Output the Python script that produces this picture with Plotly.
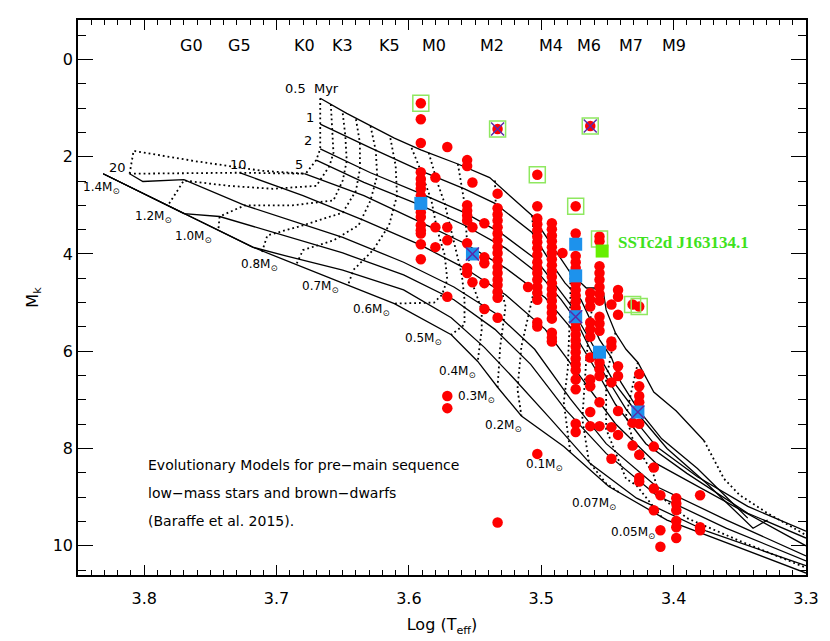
"""
HR-style diagram: M_K vs log Teff with Baraffe et al. (2015) pre-main-sequence
isochrones (solid) and mass tracks (dotted), plus the observed sample.
"""

import plotly.graph_objects as go

# ─── Isochrones (log Teff, M_K), solid lines ────────────────────────────────

ISO_0_5MYR = [(3.667, 0.80), (3.647, 1.11), (3.611, 1.62), (3.591, 1.86), (3.563, 2.15),
              (3.539, 2.43), (3.507, 3.21), (3.478, 4.39), (3.466, 4.70), (3.459, 4.70),
              (3.453, 4.80), (3.451, 5.15), (3.444, 5.62), (3.436, 5.96), (3.427, 6.23),
              (3.415, 6.84), (3.398, 7.23), (3.377, 7.84)]
ISO_1MYR = [(3.667, 1.33), (3.629, 1.82), (3.591, 2.29), (3.558, 2.66), (3.535, 2.96),
            (3.507, 3.56), (3.493, 4.17), (3.482, 4.60), (3.470, 4.94), (3.463, 5.35),
            (3.456, 5.76), (3.447, 6.13), (3.440, 6.63), (3.427, 7.19), (3.409, 7.80),
            (3.382, 8.41), (3.344, 9.43)]
ISO_2MYR = [(3.667, 1.84), (3.629, 2.33), (3.591, 2.76), (3.558, 3.15), (3.531, 3.56),
            (3.505, 4.09), (3.488, 4.68), (3.478, 5.04), (3.470, 5.45), (3.459, 5.96),
            (3.444, 6.68), (3.427, 7.29), (3.405, 8.00), (3.375, 8.72), (3.340, 9.64),
            (3.329, 9.47)]
ISO_3MYR = [(3.670, 2.07), (3.634, 2.53), (3.591, 3.00), (3.558, 3.41), (3.527, 3.88),
            (3.501, 4.43), (3.485, 4.94), (3.474, 5.35), (3.463, 5.96), (3.451, 6.53),
            (3.436, 7.19), (3.413, 7.96), (3.382, 8.58), (3.344, 9.19), (3.300, 9.70)]
ISO_5MYR = [(3.679, 2.35), (3.634, 2.80), (3.591, 3.35), (3.558, 3.78), (3.527, 4.29),
            (3.497, 4.90), (3.478, 5.51), (3.459, 6.37), (3.444, 7.09), (3.421, 7.90),
            (3.390, 8.51), (3.344, 9.33), (3.300, 9.84)]
ISO_10MYR = [(3.728, 2.33), (3.680, 2.80), (3.634, 3.31), (3.591, 3.82), (3.558, 4.29),
             (3.527, 4.84), (3.497, 5.55), (3.466, 6.68), (3.444, 7.49), (3.413, 8.31),
             (3.375, 8.88), (3.300, 10.00)]
ISO_20MYR = [(3.811, 2.35), (3.801, 2.51), (3.770, 2.47), (3.724, 3.00), (3.650, 3.66),
             (3.604, 4.17), (3.566, 4.68), (3.533, 5.25), (3.505, 5.96), (3.478, 6.98),
             (3.451, 7.90), (3.413, 8.78), (3.360, 9.47), (3.300, 10.21)]
ISO_OLD_A = [(3.831, 2.35), (3.770, 3.17), (3.743, 3.23), (3.695, 3.62), (3.650, 3.98),
             (3.604, 4.43), (3.566, 4.94), (3.535, 5.55), (3.508, 6.27), (3.482, 7.19),
             (3.451, 8.10), (3.413, 8.96), (3.360, 9.64), (3.300, 10.31)]
ISO_OLD_B = [(3.831, 2.35), (3.770, 3.17), (3.718, 3.86), (3.693, 4.04), (3.650, 4.33),
             (3.604, 4.74), (3.568, 5.31), (3.543, 5.92), (3.520, 6.58), (3.493, 7.39),
             (3.463, 8.31), (3.428, 9.02), (3.375, 9.70), (3.300, 10.41)]
ISO_OLD_C = [(3.831, 2.35), (3.770, 3.17), (3.718, 3.86), (3.650, 4.60), (3.611, 5.02),
             (3.568, 5.66), (3.548, 6.21), (3.533, 6.74), (3.515, 7.33), (3.483, 7.96),
             (3.449, 8.78), (3.405, 9.47), (3.360, 9.94), (3.300, 10.56)]

ISOCHRONES = [ISO_0_5MYR, ISO_1MYR, ISO_2MYR, ISO_3MYR, ISO_5MYR, ISO_10MYR,
              ISO_20MYR, ISO_OLD_A, ISO_OLD_B, ISO_OLD_C]

# ─── Mass tracks (log Teff, M_K), dotted lines ──────────────────────────────

TRK_1_4 = [(3.667, 0.80), (3.667, 1.33), (3.667, 1.84), (3.670, 2.07), (3.678, 2.35),
           (3.728, 2.33), (3.811, 2.35)]
TRK_1_4_LOOP = [(3.811, 2.35), (3.808, 1.88), (3.762, 2.09), (3.711, 2.29), (3.678, 2.35)]
TRK_1_2 = [(3.659, 0.92), (3.658, 1.43), (3.657, 1.92), (3.660, 2.19), (3.670, 2.60),
           (3.703, 2.66), (3.736, 2.60), (3.770, 2.49), (3.782, 3.00)]
TRK_1_0 = [(3.650, 1.11), (3.648, 1.58), (3.647, 2.09), (3.650, 2.49), (3.657, 2.90),
           (3.688, 3.00), (3.724, 3.00), (3.743, 3.23), (3.744, 3.51)]
TRK_0_9 = [(3.640, 1.23), (3.637, 1.72), (3.637, 2.25), (3.640, 2.70), (3.650, 3.15),
           (3.680, 3.41), (3.707, 3.62), (3.711, 3.96)]
TRK_0_8 = [(3.629, 1.37), (3.625, 1.88), (3.624, 2.39), (3.629, 2.90), (3.638, 3.41),
           (3.657, 3.72), (3.680, 3.92), (3.685, 4.21)]
TRK_0_7 = [(3.614, 1.62), (3.610, 2.19), (3.609, 2.80), (3.615, 3.41), (3.627, 3.92),
           (3.642, 4.33), (3.646, 4.64)]
TRK_0_6 = [(3.598, 1.82), (3.591, 2.29), (3.583, 2.90), (3.579, 3.46), (3.573, 4.02),
           (3.571, 4.53), (3.575, 4.84), (3.581, 5.00), (3.611, 5.02)]
TRK_0_5 = [(3.585, 1.92), (3.579, 2.49), (3.573, 2.96), (3.566, 3.78), (3.560, 4.43),
           (3.558, 4.94), (3.558, 5.45), (3.568, 5.66)]
TRK_0_4 = [(3.563, 2.15), (3.560, 2.60), (3.558, 2.96), (3.556, 3.78), (3.553, 4.53),
           (3.545, 5.15), (3.545, 5.55), (3.548, 6.21)]
TRK_0_3 = [(3.535, 2.49), (3.534, 3.31), (3.533, 4.13), (3.530, 4.74), (3.527, 5.08),
           (3.531, 5.90), (3.533, 6.74)]
TRK_0_2 = [(3.507, 3.21), (3.505, 3.82), (3.503, 4.39), (3.507, 4.94), (3.510, 5.29),
           (3.515, 5.90), (3.518, 6.78), (3.515, 7.33)]
TRK_0_1 = [(3.478, 4.39), (3.478, 4.94), (3.479, 5.70), (3.480, 6.37), (3.483, 7.05),
           (3.478, 8.09)]
TRK_0_07 = [(3.459, 4.70), (3.463, 5.35), (3.466, 6.17), (3.469, 7.39), (3.464, 8.27),
            (3.451, 8.72), (3.440, 8.92)]
TRK_0_05 = [(3.444, 5.62), (3.451, 6.58), (3.451, 7.60), (3.436, 8.62), (3.428, 8.76),
            (3.409, 9.41)]
TRK_0_04 = [(3.427, 6.23), (3.436, 7.33), (3.431, 7.80), (3.415, 8.55), (3.411, 8.96),
            (3.390, 9.43), (3.350, 9.90), (3.300, 10.45)]
TRK_0_02 = [(3.377, 7.84), (3.362, 8.62), (3.350, 8.96), (3.329, 9.33), (3.300, 9.78)]

TRACKS = [TRK_1_4, TRK_1_4_LOOP, TRK_1_2, TRK_1_0, TRK_0_9, TRK_0_8, TRK_0_7, TRK_0_6,
          TRK_0_5, TRK_0_4, TRK_0_3, TRK_0_2, TRK_0_1, TRK_0_07, TRK_0_05, TRK_0_04,
          TRK_0_02]

# ─── Observed sample: M_K values grouped by log Teff column ─────────────────

STARS_3591 = [0.90, 1.23, 1.72, 2.32, 2.46, 2.56, 2.66, 2.80, 3.14, 3.24, 3.41, 3.51,
              3.58, 3.80, 4.11]
STARS_3580 = [2.43, 3.45, 3.86]
STARS_3571 = [1.80, 3.45, 3.72, 4.88, 6.92, 7.17]
STARS_3556 = [2.07, 2.19, 3.00, 3.11, 3.21, 3.31, 3.78, 4.29, 4.39]
STARS_3552 = [2.53, 3.45, 4.58]
STARS_3543 = [3.37, 4.07, 4.19, 4.60, 5.13]
STARS_3533 = [1.43, 2.76, 3.06, 3.19, 3.31, 3.45, 3.58, 3.72, 3.86, 3.98, 4.13, 4.27,
              4.39, 4.53, 4.64, 4.78, 4.90, 5.31, 9.52]
STARS_3510 = [4.68]
STARS_3503 = [2.37, 3.02, 3.27, 3.39, 3.51, 3.64, 3.76, 3.88, 4.02, 4.17, 4.29, 4.39,
              4.53, 4.68, 4.80, 4.94, 5.41, 5.49, 8.11]
STARS_3492 = [3.37, 3.49, 3.62, 3.74, 3.86, 3.98, 4.11, 4.23, 4.35, 4.47, 4.60, 4.72,
              4.84, 4.96, 5.09, 5.21, 5.33, 5.62, 5.72, 5.80]
STARS_3484 = [3.98]
STARS_3474 = [3.02, 3.58, 4.04, 4.17, 4.29, 4.62, 4.74, 4.86, 4.98, 5.11, 5.21, 5.41,
              5.53, 5.66, 5.78, 5.90, 6.02, 6.15, 6.27, 6.39, 6.58, 6.78, 7.49, 7.66]
STARS_3463 = [1.37, 4.80, 4.94, 5.08, 5.41, 5.55, 5.70, 6.13, 6.58, 6.72, 7.25, 7.54]
STARS_3456 = [3.64, 3.74, 4.25, 4.39, 4.53, 4.68, 4.82, 4.96, 5.29, 5.43, 5.58, 6.23,
              6.37, 6.51, 7.05, 7.54]
STARS_3447 = [5.04, 5.80, 5.90, 6.64, 7.56, 8.21]
STARS_3442 = [4.74, 4.88, 5.25, 6.31, 6.51, 7.23, 7.72]
STARS_3431 = [5.04, 7.47, 7.94]
STARS_3426 = [5.08, 6.47, 6.72, 6.92, 7.05, 7.49, 8.13, 8.60, 8.68]
STARS_3415 = [7.96, 8.39, 8.82, 9.27]
STARS_3410 = [8.96, 9.68, 10.02]
STARS_3398 = [9.02, 9.13, 9.27, 9.49, 9.62, 9.84]
STARS_3380 = [8.96, 9.62, 9.68]

STAR_COLUMNS = [(3.591, STARS_3591), (3.580, STARS_3580), (3.571, STARS_3571),
                (3.556, STARS_3556), (3.552, STARS_3552), (3.543, STARS_3543),
                (3.533, STARS_3533), (3.510, STARS_3510), (3.503, STARS_3503),
                (3.492, STARS_3492), (3.484, STARS_3484), (3.474, STARS_3474),
                (3.463, STARS_3463), (3.456, STARS_3456), (3.447, STARS_3447),
                (3.442, STARS_3442), (3.431, STARS_3431), (3.426, STARS_3426),
                (3.415, STARS_3415), (3.410, STARS_3410), (3.398, STARS_3398),
                (3.380, STARS_3380)]

# Highlighted objects
BLUE_T = [3.591, 3.552, 3.474, 3.474, 3.474, 3.456, 3.427]
BLUE_K = [2.96, 4.00, 3.80, 4.45, 5.29, 6.02, 7.25]
CROSS_T = [3.552, 3.474, 3.427, 3.533, 3.463]
CROSS_K = [4.00, 5.29, 7.25, 1.43, 1.37]
BOX_T = [3.591, 3.533, 3.463, 3.503, 3.474, 3.456, 3.431, 3.426]
BOX_K = [0.90, 1.43, 1.37, 2.37, 3.02, 3.69, 5.04, 5.08]
TARGET_T = [3.454]
TARGET_K = [3.94]

# Spectral types along the top
SPT_LABELS = ['G0', 'G5', 'K0', 'K3', 'K5', 'M0', 'M2', 'M4', 'M6', 'M7', 'M9']
SPT_LOGT = [3.764, 3.728, 3.679, 3.650, 3.615, 3.581, 3.537, 3.493, 3.464, 3.432, 3.400]

# Isochrone age labels
AGE_LABELS = ['0.5  Myr', '1', '2', '5', '10', '20']
AGE_T = [3.673, 3.675, 3.676, 3.683, 3.729, 3.820]
AGE_K = [0.60, 1.19, 1.66, 2.17, 2.17, 2.23]

# Mass labels
MASS_LABELS = ['1.4', '1.2', '1.0', '0.8', '0.7', '0.6', '0.5', '0.4', '0.3', '0.2',
               '0.1', '0.07', '0.05']
MASS_T = [3.833, 3.793, 3.763, 3.713, 3.667, 3.629, 3.589, 3.564, 3.549, 3.529, 3.498,
          3.460, 3.431]
MASS_K = [2.64, 3.25, 3.66, 4.23, 4.68, 5.15, 5.74, 6.43, 6.94, 7.53, 8.33, 9.15, 9.74]

NOTE_LINES = ['Evolutionary Models for pre\u2212main sequence',
              'low\u2212mass stars and brown\u2212dwarfs',
              '(Baraffe et al. 2015).']
NOTE_K = [8.33, 8.92, 9.49]

FONT = 'DejaVu Sans'
RED = '#ff0000'
BLUE = '#1d92ec'
CROSS = '#5b2aa8'
BOX_GREEN = '#8fe860'
LABEL_GREEN = '#3ee21c'

fig = go.Figure()

for iso in ISOCHRONES:
    fig.add_trace(go.Scatter(
        x=[p[0] for p in iso], y=[p[1] for p in iso], mode='lines',
        line=dict(color='black', width=1.3), hoverinfo='skip',
    ))

for trk in TRACKS:
    fig.add_trace(go.Scatter(
        x=[p[0] for p in trk], y=[p[1] for p in trk], mode='lines',
        line=dict(color='black', width=1.8, dash='1.8px,3px'), hoverinfo='skip',
    ))

# Red dots for the sample
star_x, star_y = [], []
for logt, values in STAR_COLUMNS:
    star_x += [logt] * len(values)
    star_y += values
fig.add_trace(go.Scatter(
    x=star_x, y=star_y, mode='markers',
    marker=dict(color=RED, size=10.5, line=dict(width=0)),
))

fig.add_trace(go.Scatter(
    x=BLUE_T, y=BLUE_K, mode='markers',
    marker=dict(symbol='square', color=BLUE, size=13, line=dict(width=0)),
))
fig.add_trace(go.Scatter(
    x=CROSS_T, y=CROSS_K, mode='markers',
    marker=dict(symbol='x-thin-open', size=13, color=CROSS, line=dict(color=CROSS, width=1.5)),
))
fig.add_trace(go.Scatter(
    x=BOX_T, y=BOX_K, mode='markers',
    marker=dict(symbol='square-open', size=16, color=BOX_GREEN, line=dict(width=1.5)),
))
fig.add_trace(go.Scatter(
    x=TARGET_T, y=TARGET_K, mode='markers',
    marker=dict(symbol='square', color='#66ee00', size=13, line=dict(width=0)),
))

fig.add_annotation(
    x=3.4435, y=3.76, text='<b>SSTc2d J163134.1</b>', showarrow=False,
    xanchor='left', font=dict(family='Liberation Serif', size=17, color=LABEL_GREEN),
)

for label, logt in zip(SPT_LABELS, SPT_LOGT):
    fig.add_annotation(x=logt, y=-0.28, text=label, showarrow=False,
                       font=dict(family=FONT, size=16, color='black'))

for label, logt, mk in zip(AGE_LABELS, AGE_T, AGE_K):
    fig.add_annotation(x=logt, y=mk, text=label, showarrow=False,
                       font=dict(family=FONT, size=13, color='black'))

for label, logt, mk in zip(MASS_LABELS, MASS_T, MASS_K):
    fig.add_annotation(x=logt, y=mk, text=f'{label}M<sub>\u2299</sub>', showarrow=False,
                       font=dict(family=FONT, size=12, color='black'))

for line, mk in zip(NOTE_LINES, NOTE_K):
    fig.add_annotation(x=3.7985, y=mk, text=line, showarrow=False, xanchor='left',
                       font=dict(family=FONT, size=14, color='black'))

# the page body adds an 8 px offset, so the figure is drawn 8 px smaller
fig.update_layout(
    width=822,
    height=633,
    paper_bgcolor='white',
    plot_bgcolor='white',
    showlegend=False,
    margin=dict(l=70, r=24, t=10, b=56),
    font=dict(family=FONT, color='black'),
    xaxis=dict(
        range=[3.85, 3.30],
        tick0=3.3, dtick=0.1, tickformat='.1f',
        ticks='inside', ticklen=10, tickwidth=1.3, tickcolor='black',
        minor=dict(dtick=0.01, ticks='inside', ticklen=5, tickcolor='black', tickwidth=1),
        showline=True, linecolor='black', linewidth=1.5, mirror='ticks',
        showgrid=False, zeroline=False,
        tickfont=dict(family=FONT, size=16),
        ticklabelstandoff=8,
        title=dict(text='Log (T<sub>eff</sub>)', font=dict(family=FONT, size=16), standoff=12),
    ),
    yaxis=dict(
        range=[10.6, -0.81],
        tick0=0, dtick=2,
        ticks='inside', ticklen=15, tickwidth=1.3, tickcolor='black',
        minor=dict(dtick=0.5, ticks='inside', ticklen=8, tickcolor='black', tickwidth=1),
        showline=True, linecolor='black', linewidth=1.5, mirror='ticks',
        showgrid=False, zeroline=False,
        tickfont=dict(family=FONT, size=16),
        title=dict(text='M<sub>k</sub>', font=dict(family=FONT, size=16), standoff=10),
    ),
)

fig.write_html("out.html")
